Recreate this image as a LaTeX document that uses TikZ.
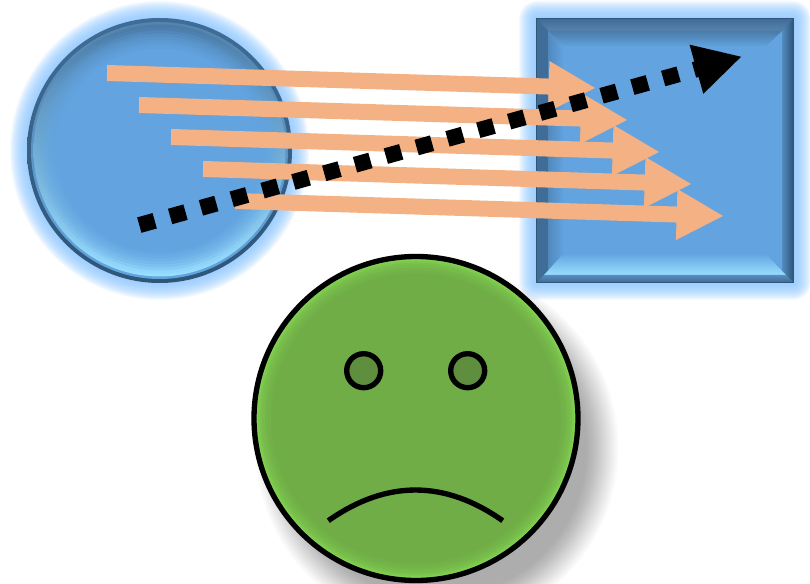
\documentclass[tikz,border=0pt]{standalone}
\usepackage{tikz}
\usetikzlibrary{arrows.meta}

\definecolor{mainblue}{HTML}{62A3E0}
\definecolor{rimblue}{HTML}{3F6D97}
\definecolor{rimmid}{HTML}{5684AE}
\definecolor{rimdark}{HTML}{2F5577}
\definecolor{bevtop}{HTML}{4A7BA8}
\definecolor{bevbot}{HTML}{98DEFF}
\definecolor{glowblue}{HTML}{8CC8FF}
\definecolor{beamorange}{HTML}{F4B183}
\definecolor{facegreen}{HTML}{70AD47}
\definecolor{faceedge}{HTML}{88E055}
\definecolor{eyegreen}{HTML}{5F8F3E}

\begin{document}
\begin{tikzpicture}[
  x=0.75pt, y=-0.75pt,
  glow/.style={fill=glowblue, opacity=0.085},
  beam/.style={draw=beamorange, line width=12pt,
               -{Triangle[length=35.5pt,width=35.5pt]}},
  raypath/.style={draw=black, line width=12pt, dash pattern=on 12pt off 12pt,
               -{Triangle[length=35.5pt,width=35.5pt]}},
  faceline/.style={draw=black, line width=4pt},
]
\useasboundingbox (0,0) rectangle (810,584);
\clip (0,0) rectangle (810,584);
\fill[white] (0,0) rectangle (810,584);

% glow round circle and square
\foreach \g in {1,...,17} {
  \fill[glow] (159.5,150.5) circle ({132.5+\g*1});
  \fill[glow, rounded corners={\g*0.8pt}] ({536-\g*1},{18-\g*1}) rectangle ({794+\g*1},{283+\g*1});
}

% round mirror
\shade[top color=rimblue, bottom color=rimdark] (159.5,150.5) circle (132.5);
\shade[top color=rimmid, bottom color=mainblue] (159.5,150.5) circle (128.5);
\foreach \r/\m in {126/0,123/10,120/30,117/48,114/62,111/74,108/84,105/92,102/100} {
  \shade[top color=mainblue!\m!bevtop, middle color=mainblue!\m!rimblue,
         bottom color=mainblue!\m!bevbot] (159.5,150.5) circle (\r);
}

% square mirror
\fill[rimdark] (536,18) rectangle (794,283);
\fill[mainblue] (548,31) rectangle (782,271);
\shade[top color=rimblue, bottom color=rimmid]
  (537,19) -- (793,19) -- (782,31) -- (548,31) -- cycle;
\shade[left color=rimblue, middle color=rimmid, right color=rimblue]
  (537,19) -- (548,31) -- (548,271) -- (537,282) -- cycle;
\shade[left color=mainblue!70!rimdark, right color=rimdark]
  (793,19) -- (782,31) -- (782,271) -- (793,282) -- cycle;
\shade[top color=bevtop, bottom color=mainblue]
  (548,31) -- (782,31) -- (765,47) -- (564,47) -- cycle;
\shade[left color=rimblue!60!mainblue, right color=mainblue]
  (548,31) -- (564,47) -- (564,253) -- (544,275) -- (548,271) -- cycle;
\shade[top color=mainblue, bottom color=bevbot]
  (564,253) -- (765,253) -- (786,275) -- (544,275) -- cycle;
\shade[top color=rimmid!70!mainblue, bottom color=rimblue]
  (537,282) -- (544,275) -- (786,275) -- (793,282) -- cycle;

% shadow and face
\foreach \g in {1,...,22} {
  \fill[black, opacity=0.016] (437,448) circle ({183-\g*1.5});
}
\fill[facegreen] (416,418.5) circle (162);
\foreach \r/\m in {162/0,160/25,158/45,156/60,154/72,151/84,148/92} {
  \fill[facegreen!\m!faceedge] (416,418.5) circle (\r);
}
\fill[facegreen] (416,418.5) circle (145);
\draw[faceline] (416,418.5) circle (162);
\draw[faceline, fill=eyegreen] (363.7,370.7) circle (17);
\draw[faceline, fill=eyegreen] (467.7,370.7) circle (17);
\coordinate (mouthL) at (328.3,520.7);
\coordinate (mouthR) at (502.7,520.7);
\draw[faceline] (mouthL) .. controls (386.4,479.8) and (444.6,479.8) .. (mouthR);

% orange beams
\foreach \i in {0,...,4} {
  \coordinate (tail\i) at ({107+32*\i},{73+32*\i});
  \coordinate (tip\i) at ({596+32*\i},{88+32*\i});
  \draw[beam] (tail\i) -- (tip\i);
}

% dotted ray
\coordinate (rayA) at (139.3,225.1);
\coordinate (rayB) at (742,56.5);
\draw[raypath] (rayA) -- (rayB);

\end{tikzpicture}
\end{document}
